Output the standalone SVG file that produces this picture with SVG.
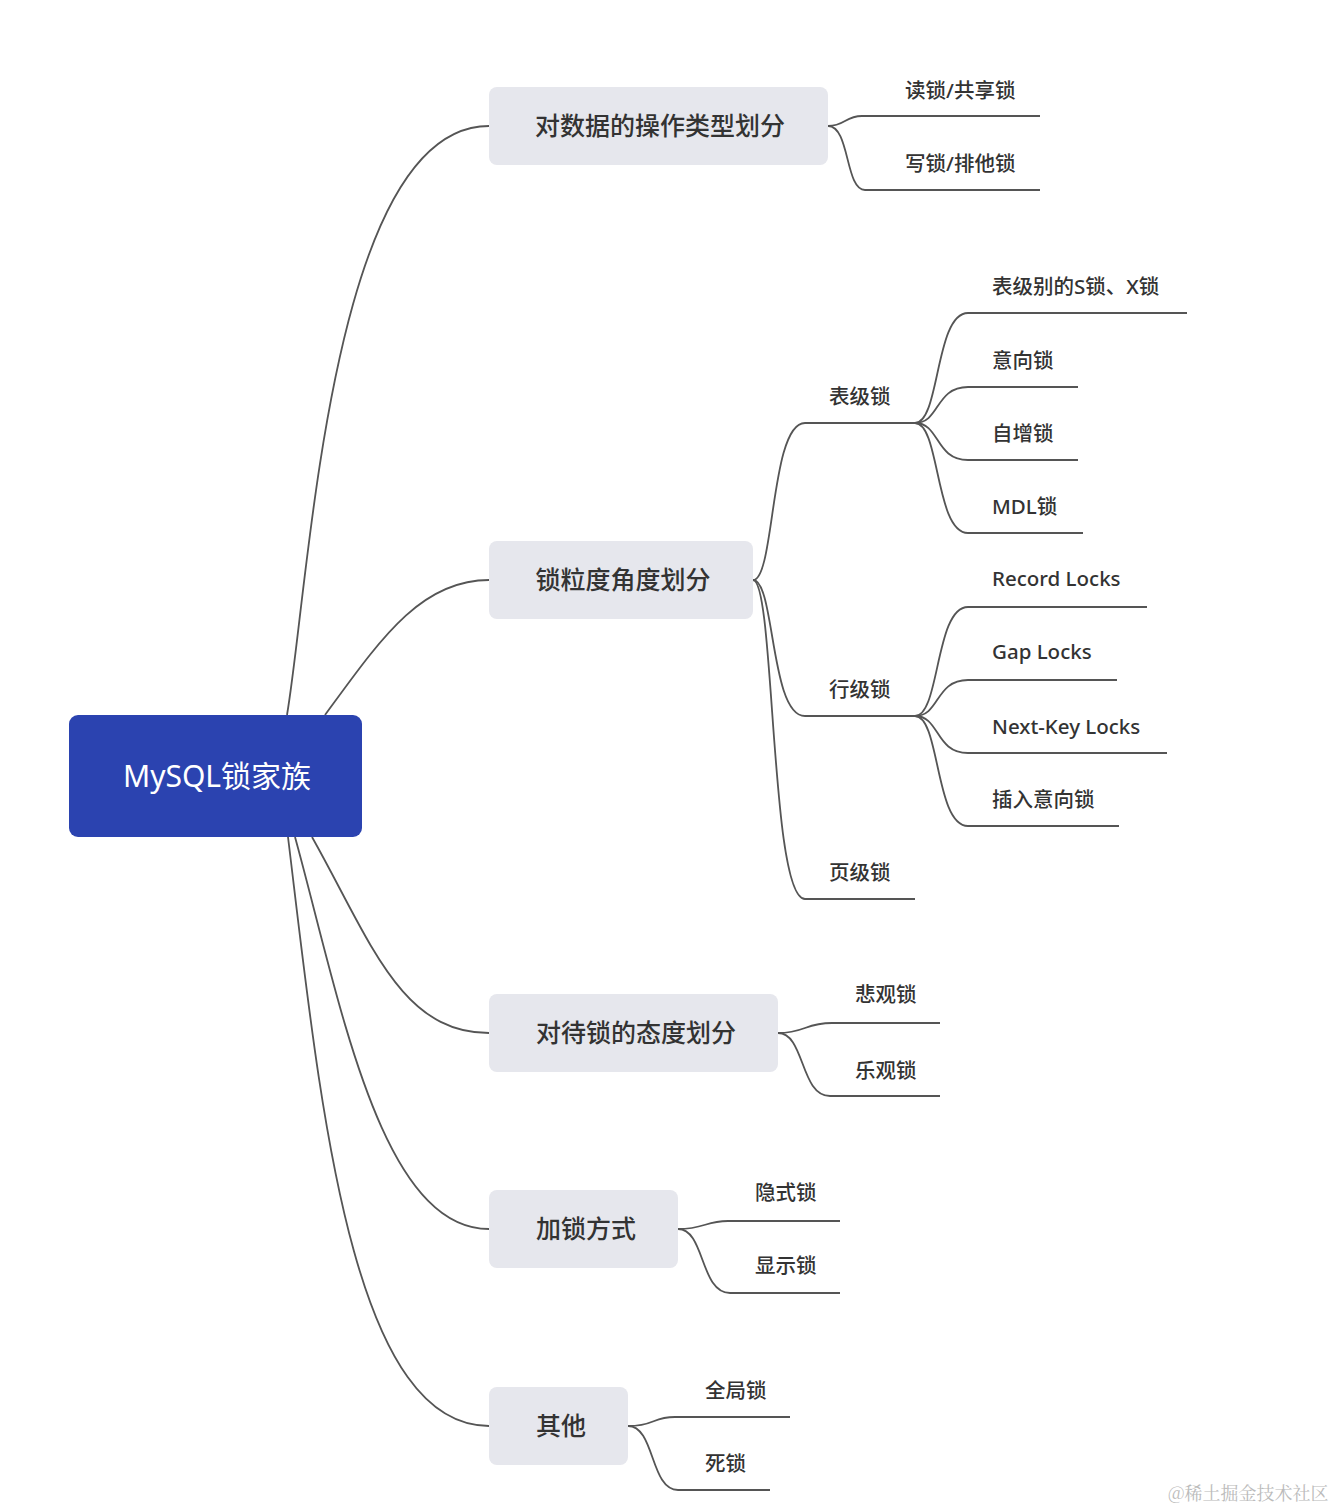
<svg xmlns="http://www.w3.org/2000/svg" width="1334" height="1510" viewBox="0 0 1334 1510">
<style>
text{font-family:"Noto Sans","Noto Sans CJK SC",sans-serif;fill:#333}
.root{fill:#2b43b0}
.rt{fill:#fff;font-size:30px}
.l1{fill:#e6e7ed}
.t1{font-size:25px;font-weight:500}
.t2{font-size:20.5px;font-weight:500}
.c path{fill:none;stroke:#555;stroke-width:1.8}
.wm{fill:#bbb;font-size:18px;font-family:"Noto Serif CJK SC","Noto Sans CJK SC",serif}
</style>
<rect width="1334" height="1510" fill="#fff"/>
<g class="c" id="connectors">
<path d="M287,715 C310,580 330,126 489,126"/>
<path d="M325,715 C380,640 420,580 489,580"/>
<path d="M312,837 C370,940 400,1033 489,1033"/>
<path d="M295,837 C340,1000 380,1229 489,1229"/>
<path d="M288,837 C320,1100 350,1426 489,1426"/>
<path d="M828,126 C845,126 845,116 862,116 H1040"/>
<path d="M828,126 C850,126 845,190 865,190 H1040"/>
<path d="M753,580 C775,580 770,423 805,423 H915"/>
<path d="M753,580 C775,580 770,716 805,716 H915"/>
<path d="M753,580 C775,580 770,899 805,899 H915"/>
<path d="M915,423 C940,423 935,313 968,313 H1187"/>
<path d="M915,423 C940,423 935,387 968,387 H1078"/>
<path d="M915,423 C940,423 935,460 968,460 H1078"/>
<path d="M915,423 C940,423 935,533 968,533 H1083"/>
<path d="M915,716 C940,716 935,607 968,607 H1147"/>
<path d="M915,716 C940,716 935,680 968,680 H1117"/>
<path d="M915,716 C940,716 935,753 968,753 H1167"/>
<path d="M915,716 C940,716 935,826 968,826 H1119"/>
<path d="M778,1033 C805,1033 805,1023 832,1023 H940"/>
<path d="M778,1033 C805,1033 800,1096 830,1096 H940"/>
<path d="M678,1229 C705,1229 705,1221 728,1221 H840"/>
<path d="M678,1229 C705,1229 700,1293 730,1293 H840"/>
<path d="M628,1426 C655,1426 652,1417 675,1417 H790"/>
<path d="M628,1426 C655,1426 650,1490 678,1490 H770"/>
</g>
<g id="root"><rect class="root" x="69" y="715" width="293" height="122" rx="9"/><text class="rt" x="217" y="787" text-anchor="middle">MySQL锁家族</text></g>
<g id="n1"><rect class="l1" x="489" y="87" width="339" height="78" rx="8"/><text class="t1" x="660" y="135" text-anchor="middle">对数据的操作类型划分</text></g>
<g id="n2"><rect class="l1" x="489" y="541" width="264" height="78" rx="8"/><text class="t1" x="623" y="589" text-anchor="middle">锁粒度角度划分</text></g>
<g id="n3"><rect class="l1" x="489" y="994" width="289" height="78" rx="8"/><text class="t1" x="636" y="1042" text-anchor="middle">对待锁的态度划分</text></g>
<g id="n4"><rect class="l1" x="489" y="1190" width="189" height="78" rx="8"/><text class="t1" x="586" y="1238" text-anchor="middle">加锁方式</text></g>
<g id="n5"><rect class="l1" x="489" y="1387" width="139" height="78" rx="8"/><text class="t1" x="561" y="1435" text-anchor="middle">其他</text></g>
<g id="n1a"><text class="t2" x="905" y="98">读锁/共享锁</text></g>
<g id="n1b"><text class="t2" x="905" y="171">写锁/排他锁</text></g>
<g id="n2a"><text class="t2" x="829" y="404">表级锁</text></g>
<g id="n2b"><text class="t2" x="829" y="697">行级锁</text></g>
<g id="n2c"><text class="t2" x="829" y="880">页级锁</text></g>
<g id="n2a1"><text class="t2" x="992" y="294">表级别的S锁、X锁</text></g>
<g id="n2a2"><text class="t2" x="992" y="368">意向锁</text></g>
<g id="n2a3"><text class="t2" x="992" y="441">自增锁</text></g>
<g id="n2a4"><text class="t2" x="992" y="514">MDL锁</text></g>
<g id="n2b1"><text class="t2" x="992" y="586">Record Locks</text></g>
<g id="n2b2"><text class="t2" x="992" y="659">Gap Locks</text></g>
<g id="n2b3"><text class="t2" x="992" y="734">Next-Key Locks</text></g>
<g id="n2b4"><text class="t2" x="992" y="807">插入意向锁</text></g>
<g id="n3a"><text class="t2" x="855" y="1002">悲观锁</text></g>
<g id="n3b"><text class="t2" x="855" y="1078">乐观锁</text></g>
<g id="n4a"><text class="t2" x="755" y="1200">隐式锁</text></g>
<g id="n4b"><text class="t2" x="755" y="1273">显示锁</text></g>
<g id="n5a"><text class="t2" x="705" y="1398">全局锁</text></g>
<g id="n5b"><text class="t2" x="705" y="1471">死锁</text></g>
<text class="wm" x="1168" y="1500">@稀土掘金技术社区</text>
</svg>
